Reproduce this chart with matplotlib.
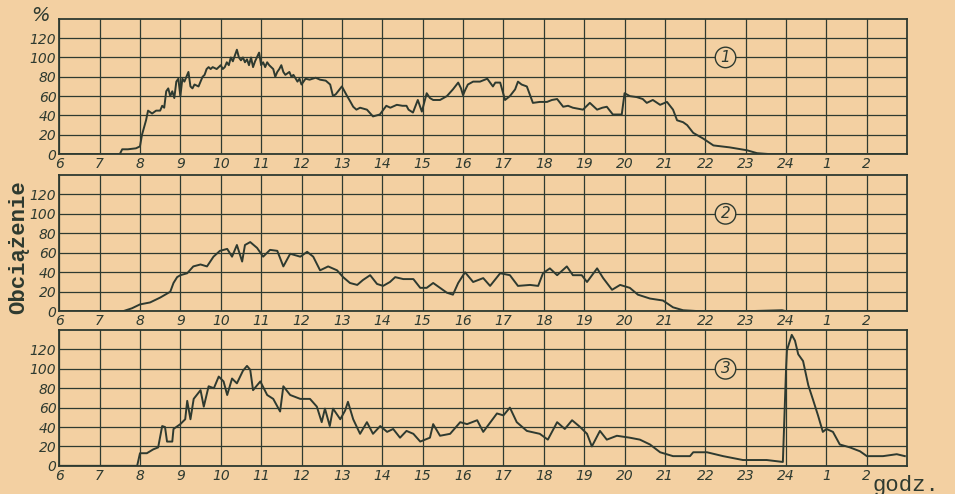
import matplotlib
matplotlib.use("Agg")
import matplotlib.pyplot as plt
import numpy as np

# --- godzina (6..27 = 6:00..3:00), obciazenie w %
t1 = [6.0, 7.5, 7.56, 7.7, 7.9, 8.0, 8.05, 8.15, 8.2, 8.3, 8.4, 8.5, 8.55, 8.6, 8.65,
      8.7, 8.75, 8.8, 8.85, 8.9, 8.95, 9.0, 9.05, 9.1, 9.15, 9.2, 9.25, 9.3, 9.35,
      9.45, 9.5, 9.55, 9.6, 9.65, 9.7, 9.75, 9.8, 9.9, 10.0, 10.05, 10.1, 10.15, 10.2,
      10.25, 10.3, 10.35, 10.4, 10.45, 10.5, 10.55, 10.6, 10.65, 10.7, 10.75, 10.8,
      10.85, 10.95, 11.0, 11.05, 11.1, 11.15, 11.2, 11.3, 11.35, 11.4, 11.45, 11.5,
      11.55, 11.6, 11.7, 11.75, 11.8, 11.9, 11.95, 12.0, 12.1, 12.2, 12.35, 12.46,
      12.6, 12.71, 12.78, 12.85, 13.0, 13.13, 13.2, 13.28, 13.36, 13.45, 13.62, 13.77,
      13.94, 14.1, 14.2, 14.36, 14.5, 14.6, 14.65, 14.76, 14.88, 14.98, 15.1, 15.18,
      15.26, 15.43, 15.6, 15.75, 15.88, 15.95, 16.0, 16.05, 16.12, 16.25, 16.42, 16.6,
      16.74, 16.8, 16.92, 17.04, 17.16, 17.29, 17.36, 17.45, 17.58, 17.73, 17.9, 18.08,
      18.2, 18.33, 18.48, 18.6, 18.72, 18.85, 18.97, 19.14, 19.32, 19.45, 19.56, 19.71,
      19.93, 20.0, 20.13, 20.3, 20.45, 20.55, 20.7, 20.88, 21.05, 21.2, 21.3, 21.45,
      21.55, 21.7, 21.95, 22.2, 22.6, 23.03, 23.28, 23.6, 27.0]
v1 = [0, 0, 5, 5, 6, 8, 20, 35, 45, 42, 45, 45, 50, 48, 65,
      68, 60, 65, 58, 75, 78, 60, 78, 75, 80, 85, 70, 68, 72,
      70, 75, 80, 82, 88, 90, 88, 90, 88, 92, 88, 90, 95, 92,
      100, 96, 102, 108, 100, 97, 100, 95, 98, 92, 100, 90,
      96, 105, 92, 95, 90, 95, 92, 88, 80, 85, 88, 92,
      85, 82, 85, 80, 82, 75, 78, 72, 78, 77, 79, 77,
      76, 72, 60, 62, 70, 60, 55, 49, 46, 48, 46, 39,
      41, 50, 48, 51, 50, 50, 46, 43, 56, 44, 63, 58,
      56, 56, 60, 67, 74, 68, 61, 66, 72, 75, 75, 78,
      70, 74, 74, 56, 60, 67, 75, 72, 70, 53, 54, 54,
      56, 57, 49, 50, 48, 47, 46, 53, 46, 48, 49, 41,
      41, 63, 60, 59, 57, 53, 56, 51, 54, 46, 35, 33,
      30, 22, 16, 9, 7, 4, 1, 0, 0]

t2 = [6.0, 7.58, 7.8, 8.0, 8.25, 8.5, 8.75, 8.83, 8.92, 9.0, 9.17, 9.32, 9.5, 9.66,
      9.82, 9.98, 10.16, 10.28, 10.4, 10.53, 10.6, 10.73, 10.9, 11.05, 11.22, 11.4,
      11.55, 11.72, 11.97, 12.14, 12.29, 12.46, 12.66, 12.88, 13.03, 13.2, 13.38,
      13.52, 13.7, 13.87, 14.02, 14.19, 14.32, 14.52, 14.77, 14.94, 15.1, 15.26,
      15.43, 15.6, 15.75, 15.88, 16.05, 16.25, 16.5, 16.67, 16.92, 17.16, 17.36,
      17.66, 17.86, 17.98, 18.15, 18.33, 18.57, 18.72, 18.94, 19.07, 19.32, 19.47,
      19.69, 19.89, 20.13, 20.33, 20.63, 20.95, 21.2, 21.45, 21.87, 23.0, 23.9, 24.0,
      27.0]
v2 = [0, 0, 3, 7, 9, 14, 20, 29, 35, 37, 39, 46, 48, 46,
      56, 62, 64, 56, 68, 51, 68, 71, 65, 56, 63, 62,
      46, 59, 56, 61, 56, 42, 46, 42, 35, 29, 27,
      32, 37, 28, 26, 30, 35, 33, 33, 24, 24, 29,
      24, 19, 17, 29, 40, 30, 34, 26, 39, 37, 26,
      27, 26, 39, 44, 37, 46, 37, 37, 30, 44, 34,
      22, 27, 24, 17, 13, 11, 4, 1, 0, 0, 1, 0,
      0]

t3 = [6.0, 7.93, 8.0, 8.17, 8.33, 8.45, 8.55, 8.62, 8.67, 8.8, 8.83, 9.0, 9.12, 9.17,
      9.25, 9.33, 9.5, 9.58, 9.7, 9.83, 9.95, 10.07, 10.16, 10.28, 10.4, 10.55, 10.65,
      10.73, 10.8, 10.98, 11.15, 11.3, 11.47, 11.55, 11.72, 11.97, 12.21, 12.38, 12.5,
      12.58, 12.7, 12.78, 12.96, 13.08, 13.15, 13.28, 13.45, 13.62, 13.77, 13.95,
      14.12, 14.27, 14.44, 14.6, 14.77, 14.94, 15.18, 15.26, 15.43, 15.68, 15.93,
      16.1, 16.35, 16.5, 16.84, 17.0, 17.16, 17.33, 17.58, 17.9, 18.1, 18.33, 18.52,
      18.7, 18.9, 19.07, 19.19, 19.39, 19.56, 19.81, 20.13, 20.38, 20.63, 20.88, 21.2,
      21.62, 21.7, 22.04, 22.44, 22.93, 23.52, 23.92, 24.0, 24.02, 24.14, 24.22,
      24.3, 24.42, 24.55, 24.66, 24.79, 24.91, 25.0, 25.16, 25.33, 25.58, 25.83, 26.0,
      26.4, 26.74, 26.94]
v3 = [0, 0, 13, 13, 17, 19, 41, 40, 25, 25, 38, 43, 48, 67,
      48, 69, 78, 61, 82, 80, 92, 87, 73, 90, 85, 98, 103,
      99, 78, 87, 73, 69, 56, 82, 73, 69, 69, 61, 45,
      59, 41, 59, 48, 57, 66, 48, 33, 45, 33, 41,
      35, 38, 29, 36, 33, 25, 29, 43, 31, 33, 45,
      43, 47, 35, 54, 52, 60, 45, 36, 33, 27, 45, 38,
      47, 40, 33, 20, 36, 27, 31, 29, 27, 22, 14, 10,
      10, 14, 14, 10, 6, 6, 4, 101, 119, 135, 129,
      115, 108, 83, 69, 52, 35, 38, 35, 22, 19, 15, 10,
      10, 12, 10]

panels = [(t1, v1, "1"), (t2, v2, "2"), (t3, v3, "3")]
hours = list(range(6, 27))
hour_labels = [str(h) if h <= 24 else str(h - 24) for h in hours]
yticks = [0, 20, 40, 60, 80, 100, 120]

paper = "#f3d0a2"
ink = "#2e3a30"

fig = plt.figure(figsize=(9.55, 4.94), dpi=100)
fig.patch.set_facecolor(paper)

# pozycje paneli [lewo, dol, szer, wys]
boxes = [[0.062, 0.688, 0.888, 0.274],
         [0.062, 0.370, 0.888, 0.276],
         [0.062, 0.057, 0.888, 0.275]]

for box, (t, v, num) in zip(boxes, panels):
    ax = fig.add_axes(box)
    ax.set_facecolor(paper)
    ax.set_xlim(6, 27)
    ax.set_ylim(0, 140)
    ax.set_xticks(hours)
    ax.set_xticklabels(hour_labels)
    ax.set_yticks(yticks)
    ax.grid(True, color=ink, linewidth=0.9)
    ax.tick_params(length=0, pad=2, colors=ink, labelsize=10)
    for lab in ax.get_xticklabels() + ax.get_yticklabels():
        lab.set_style("italic")
        lab.set_family(["Liberation Sans Narrow", "DejaVu Sans"])
    for sp in ax.spines.values():
        sp.set_color(ink)
        sp.set_linewidth(1.3)
    ax.plot(t, v, color=ink, linewidth=1.4)
    ax.text(22.5, 100, num, ha="center", va="center", fontsize=11, color=ink,
            style="italic",
            bbox=dict(boxstyle="circle,pad=0.18", fc=paper, ec=ink, lw=1.0))

fig.text(0.042, 0.968, "%", fontsize=14, style="italic", color=ink,
         ha="center", va="center")
fig.text(0.02, 0.50, "Obciążenie", rotation=90, fontsize=16, fontweight="bold",
         family=["Liberation Mono", "DejaVu Sans Mono"], color=ink,
         ha="center", va="center")
fig.text(0.914, 0.018, "godz.", fontsize=16,
         family=["Liberation Mono", "DejaVu Sans Mono"], color=ink,
         ha="left", va="center")

fig.savefig("out.png", dpi=100, facecolor=paper)
